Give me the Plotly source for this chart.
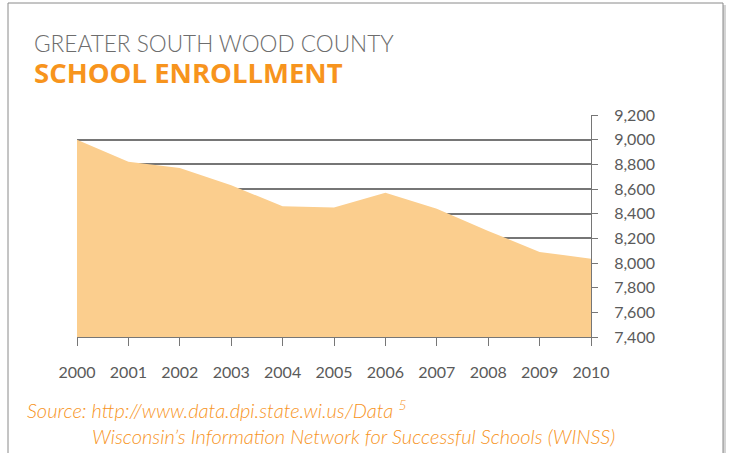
import plotly.graph_objects as go

years = [2000, 2001, 2002, 2003, 2004, 2005, 2006, 2007, 2008, 2009, 2010]
enrollment = [9000, 8820, 8770, 8630, 8460, 8450, 8570, 8440, 8260, 8090, 8035]
y_ticks = [7400, 7600, 7800, 8000, 8200, 8400, 8600, 8800, 9000, 9200]

title_line1 = "GREATER SOUTH WOOD COUNTY"
title_line2 = "SCHOOL ENROLLMENT"
source_line1 = "Source: http://www.data.dpi.state.wi.us/Data <sup>5</sup>"
source_line2 = "Wisconsin’s Information Network for Successful Schools (WINSS)"

W, H = 732, 453
L, R, T, B = 77, 591, 115, 337

def px(x):
    return (x - L) / (R - L)

def py(y):
    return (B - y) / (B - T)

fig = go.Figure()
fig.add_trace(go.Scatter(
    x=years, y=enrollment, mode="lines", fill="tozeroy",
    fillcolor="#FBCE8E", line=dict(width=0, color="#FBCE8E"),
    hoverinfo="skip", showlegend=False,
))

gray = "#767676"
fig.update_layout(
    width=W, height=H,
    margin=dict(l=L, r=W - R, t=T, b=H - B, pad=0),
    paper_bgcolor="white", plot_bgcolor="white",
    xaxis=dict(
        range=[2000, 2010], tickmode="array", tickvals=years,
        ticktext=[str(y) for y in years],
        showgrid=False, zeroline=False,
        showline=True, linecolor=gray, linewidth=1,
        ticks="outside", ticklen=8, tickcolor=gray,
        tickfont=dict(family="Lato", size=16, color="#5a5a5a"),
        ticklabelstandoff=13,
    ),
    yaxis=dict(
        range=[7400, 9200], side="right", tickmode="array", tickvals=y_ticks,
        tickformat=",d",
        showgrid=True, gridcolor=gray, gridwidth=1.5, zeroline=False,
        showline=True, linecolor=gray, linewidth=1,
        ticks="outside", ticklen=6, tickcolor=gray,
        tickfont=dict(family="Lato", size=16, color="#5a5a5a"),
        ticklabelstandoff=13,
    ),
    font=dict(family="Lato"),
)

# frame with shadow
fig.add_shape(type="rect", xref="paper", yref="paper",
              x0=px(10), x1=px(726), y0=py(470), y1=py(5),
              line=dict(width=0), fillcolor="#d4d4d4", layer="below")
fig.add_shape(type="rect", xref="paper", yref="paper",
              x0=px(8), x1=px(723), y0=py(470), y1=py(3),
              line=dict(width=1, color="#8a8a8a"), fillcolor="white", layer="below")

fig.add_annotation(text=title_line1, xref="paper", yref="paper",
                   x=px(32), y=py(44), xanchor="left", yanchor="middle",
                   showarrow=False,
                   font=dict(family="Lato", size=22.6, color="#6d6d6d", weight=300))
fig.add_annotation(text="<b>" + title_line2 + "</b>", xref="paper", yref="paper",
                   x=px(32), y=py(73), xanchor="left", yanchor="middle",
                   showarrow=False,
                   font=dict(family="Open Sans", size=27.5, color="#F7941D"))
fig.add_annotation(text="<i>" + source_line1 + "</i>", xref="paper", yref="paper",
                   x=px(25), y=py(409), xanchor="left", yanchor="middle",
                   showarrow=False,
                   font=dict(family="Lato", size=20, color="#F7941D", weight=300))
fig.add_annotation(text="<i>" + source_line2 + "</i>", xref="paper", yref="paper",
                   x=px(90), y=py(436), xanchor="left", yanchor="middle",
                   showarrow=False,
                   font=dict(family="Lato", size=20, color="#F7941D", weight=300))

fig.write_html("out.html", config={"displayModeBar": False},
               post_script="document.body.style.margin='0px';")
